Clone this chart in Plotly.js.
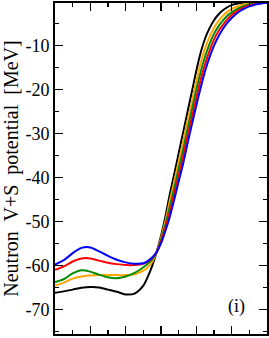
<!DOCTYPE html>
<html>
<head>
<meta charset="utf-8">
<script src="https://cdn.plot.ly/plotly-3.0.1.min.js"></script>
<style>html,body{margin:0;padding:0;background:#fff;}#plot{width:269px;height:338px;}</style>
</head>
<body>
<div id="plot"></div>
<script>
const r = [0,0.5,1,1.5,2,2.5,3,3.5,4,4.5,5,5.25,5.5,5.75,6,6.25,6.5,6.75,7,7.25,7.5,7.75,8,8.25,8.5,8.75,9,9.25,9.5,9.75,10,10.25,10.5,10.75,11,11.25,11.5,11.75,12];
const vBlack  = [-66.2,-65.9,-65.5,-65.1,-64.9,-65.0,-65.5,-66.0,-66.6,-66.4,-64.6,-62.6,-60.1,-57.0,-53.3,-48.9,-43.8,-39.2,-34.5,-29.8,-25.1,-20.4,-15.7,-11.5,-8.3,-6.0,-4.2,-2.9,-1.95,-1.25,-0.75,-0.5,-0.3,-0.18,-0.1,-0.05,-0.02,0,0];
const vOrange = [-64.6,-63.9,-63.0,-62.5,-62.3,-62.2,-62.2,-62.2,-62.2,-62.0,-61.2,-60.4,-59.2,-57.0,-53.8,-49.9,-45.3,-40.9,-36.4,-31.9,-27.2,-22.7,-18.1,-13.9,-10.5,-8.0,-5.9,-4.4,-3.2,-2.3,-1.6,-1.2,-0.8,-0.58,-0.38,-0.25,-0.16,-0.1,-0.06];
const vGreen  = [-63.8,-63.1,-61.8,-61.1,-61.4,-62.1,-62.7,-62.9,-62.5,-61.7,-60.4,-59.6,-58.6,-57.0,-54.2,-50.7,-46.6,-42.4,-38.0,-33.7,-29.0,-24.5,-20.0,-15.9,-12.4,-9.6,-7.3,-5.6,-4.3,-3.2,-2.4,-1.8,-1.3,-0.9,-0.62,-0.42,-0.28,-0.18,-0.11];
const vRed    = [-61.0,-60.2,-59.1,-58.4,-58.4,-58.9,-59.4,-59.7,-59.9,-59.9,-59.6,-59.1,-58.3,-57.0,-54.6,-51.4,-47.8,-43.7,-39.5,-35.3,-30.6,-26.3,-21.9,-17.7,-14.1,-11.1,-8.6,-6.7,-5.3,-4.0,-3.0,-2.3,-1.7,-1.2,-0.84,-0.57,-0.39,-0.26,-0.16];
const vBlue   = [-59.8,-58.8,-57.2,-56.0,-55.9,-56.8,-57.8,-58.7,-59.3,-59.6,-59.5,-59.0,-58.2,-57.0,-55.0,-52.1,-48.9,-45.0,-40.9,-36.9,-32.3,-27.9,-23.6,-19.5,-15.7,-12.6,-10.0,-7.9,-6.2,-4.8,-3.7,-2.8,-2.05,-1.5,-1.05,-0.72,-0.5,-0.33,-0.2];
const yTickVals = [-70,-60,-50,-40,-30,-20,-10];
const yTickText = ["-70","-60","-50","-40","-30","-20","-10"];
const yTitle = "Neutron\u00a0 V+S\u00a0 potential\u00a0 [MeV]";
const panelLabel = "(i)";

const series = [
  {y: vBlack,  color: "#000000"},
  {y: vOrange, color: "#FFA500"},
  {y: vGreen,  color: "#008B00"},
  {y: vRed,    color: "#FF0000"},
  {y: vBlue,   color: "#0000FF"}
];
const traces = series.map(s => ({
  x: r, y: s.y, type: "scatter", mode: "lines",
  line: {color: s.color, width: 2, shape: "spline", smoothing: 0.8},
  showlegend: false, hoverinfo: "none"
}));

const font = {family: "Liberation Serif, Times New Roman, serif", color: "#000"};
const layout = {
  width: 269, height: 338,
  margin: {l: 55, r: 2, t: 3, b: 4},
  paper_bgcolor: "#fff", plot_bgcolor: "#fff",
  showlegend: false,
  xaxis: {
    range: [0, 12], showgrid: false, zeroline: false,
    showline: true, linecolor: "#000", linewidth: 2, mirror: "allticks",
    ticks: "inside", tickvals: [0,2,4,6,8,10,12], ticklen: 8, tickwidth: 1.5, tickcolor: "#000",
    showticklabels: false,
    minor: {tickvals: [1,3,5,7,9,11], ticks: "inside", ticklen: 4, tickwidth: 1.5, tickcolor: "#000"}
  },
  yaxis: {
    range: [-75.6, -0.28], showgrid: false, zeroline: false,
    showline: true, linecolor: "#000", linewidth: 2, mirror: "allticks",
    ticks: "inside", tickvals: yTickVals, ticktext: yTickText, ticklen: 8, tickwidth: 1.5, tickcolor: "#000",
    tickfont: Object.assign({size: 18}, font),
    minor: {tickvals: [-75,-65,-55,-45,-35,-25,-15,-5], ticks: "inside", ticklen: 4, tickwidth: 1.5, tickcolor: "#000"},
    title: {text: yTitle, font: Object.assign({size: 20}, font), standoff: 2}
  },
  annotations: [{
    text: panelLabel, xref: "paper", yref: "paper", x: 0.856, y: 0.082,
    xanchor: "center", yanchor: "middle", showarrow: false,
    font: Object.assign({size: 18}, font)
  }]
};
Plotly.newPlot("plot", traces, layout, {staticPlot: true, displayModeBar: false});
</script>
</body>
</html>
